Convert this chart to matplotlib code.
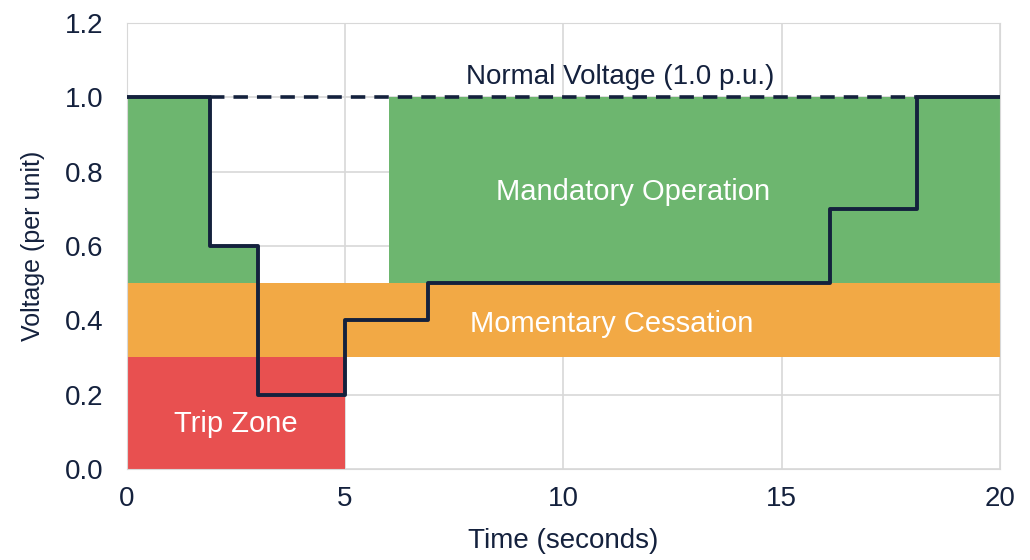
import matplotlib
matplotlib.use("Agg")
import matplotlib.pyplot as plt

# Voltage ride-through profile (step, post)
times = [0, 1.9, 3.0, 5.0, 6.9, 16.1, 18.1, 20]
volts = [1.0, 0.6, 0.2, 0.4, 0.5, 0.7, 1.0, 1.0]

# Zones: (name, x start, x end, y low, y high)
zone_names = ["Trip Zone", "Momentary Cessation", "Mandatory Operation"]
zone_x0 = [0, 0, 6.0]
zone_x1 = [5.0, 20, 20]
zone_y0 = [0.0, 0.3, 0.5]
zone_y1 = [0.3, 0.5, 1.0]
zone_colors = ["#e85050", "#f2a945", "#6db66f"]
zone_label_xy = [(2.5, 0.12), (11.1, 0.39), (11.6, 0.745)]

nominal = 1.0
nominal_label = "Normal Voltage (1.0 p.u.)"

navy = "#14213d"
plt.rcParams['font.family'] = ['Liberation Sans', 'DejaVu Sans']

fig = plt.figure(figsize=(10.3, 5.6), dpi=100)
ax = fig.add_axes([0.123, 0.1625, 0.848, 0.7965])

for i in range(len(zone_names)):
    ax.fill_between([zone_x0[i], zone_x1[i]], zone_y0[i], zone_y1[i],
                    color=zone_colors[i], lw=0, zorder=1)
    ax.text(zone_label_xy[i][0], zone_label_xy[i][1], zone_names[i],
            color="white", fontsize=21, ha="center", va="center", zorder=4)

# green area left of the dip, bounded by the profile
ax.fill_between(times[:3], zone_y0[2], [volts[0], volts[1], volts[1]],
                step="post", color=zone_colors[2], lw=0, zorder=1)

ax.plot([times[1], times[6]], [nominal, nominal], color=navy, lw=2.6,
        ls=(0, (4, 2.5)), zorder=3)
ax.step(times, volts, where="post", color=navy, lw=2.8, zorder=3)
ax.text(11.3, 1.055, nominal_label, color=navy, fontsize=20,
        ha="center", va="center")

ax.set_xlim(0, 20)
ax.set_ylim(0, 1.2)
ax.set_xticks([0, 5, 10, 15, 20])
ax.set_yticks([0.0, 0.2, 0.4, 0.6, 0.8, 1.0, 1.2])
ax.set_yticklabels(["0.0", "0.2", "0.4", "0.6", "0.8", "1.0", "1.2"])
ax.grid(True, color="#d8d8d8", lw=1.2, zorder=0)
ax.set_axisbelow(True)
for s in ax.spines.values():
    s.set_color("#d8d8d8")
ax.tick_params(length=0, labelsize=20, labelcolor=navy)
ax.tick_params(axis="y", pad=17)
ax.tick_params(axis="x", pad=12)
ax.set_xlabel("Time (seconds)", fontsize=20, color=navy, labelpad=12)
ax.set_ylabel("Voltage (per unit)", fontsize=18, color=navy, labelpad=14)

fig.savefig("out.png", dpi=100)
